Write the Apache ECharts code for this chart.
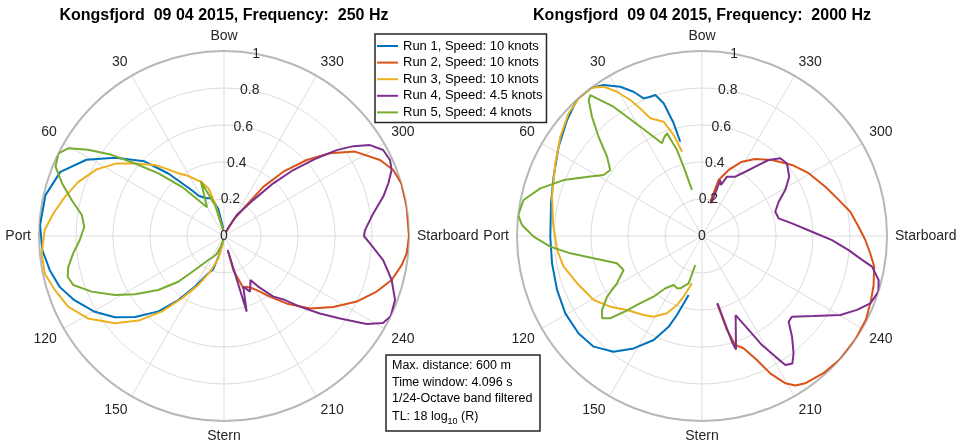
<!DOCTYPE html>
<html>
<head>
<meta charset="utf-8">
<title>Kongsfjord 09 04 2015 – directivity</title>
<script src="https://cdn.jsdelivr.net/npm/echarts@6/dist/echarts.min.js"></script>
<style>
  html, body { margin: 0; padding: 0; background: #ffffff; }
  #chart { width: 960px; height: 446px; }
</style>
</head>
<body>
<div id="chart"></div>
<script>
// ---- labels -------------------------------------------------------------
const titles = [
  'Kongsfjord  09 04 2015, Frequency:  250 Hz',
  'Kongsfjord  09 04 2015, Frequency:  2000 Hz'
];
const runNames = [
  'Run 1, Speed: 10 knots',
  'Run 2, Speed: 10 knots',
  'Run 3, Speed: 10 knots',
  'Run 4, Speed: 4.5 knots',
  'Run 5, Speed: 4 knots'
];
const angleTickLabels = ['Bow', '30', '60', 'Port', '120', '150', 'Stern', '210', '240', 'Starboard', '300', '330'];
const radiusTickLabels = ['0', '0.2', '0.4', '0.6', '0.8', '1'];
const infoLines = ['Max. distance: 600 m', 'Time window: 4.096 s', '1/24-Octave band filtered'];

// ---- measured levels: [bearing in degrees, normalised level] -------------
// 250 Hz
const run1_250 = [[5,0.04],[12,0.15],[18,0.214],[24.6,0.224],[32,0.255],[35,0.30],[41.6,0.45],[46.8,0.59],[54.3,0.725],[61,0.85],[68.6,0.95],[77.1,0.99],[86.6,0.996],[94.4,0.985],[101,0.96],[107.2,0.93],[113.2,0.88],[120.4,0.81],[126.7,0.735],[132.4,0.65],[139,0.54],[144.5,0.425],[150.2,0.315],[157,0.22],[162,0.19],[165,0.12],[170,0.04]];
const run2_250 = [[195,0.09],[195.3,0.19],[200.3,0.30],[204,0.30],[208,0.32],[211,0.34],[217,0.41],[223,0.50],[230,0.61],[237,0.705],[243.7,0.80],[250,0.878],[255.3,0.937],[260.7,0.973],[264.6,0.992],[270,1.0],[279,1.0],[286.5,1.0],[291.3,0.982],[296,0.938],[302.8,0.842],[308,0.727],[312.6,0.607],[317.3,0.473],[321.4,0.34],[323.8,0.21],[329.8,0.1],[335,0.02]];
const run3_250 = [[10,0.03],[14,0.09],[15.4,0.18],[18,0.27],[23,0.32],[26,0.337],[31,0.38],[36.1,0.42],[40,0.47],[44.2,0.535],[50.8,0.62],[55.9,0.70],[62.4,0.777],[69.6,0.84],[76.1,0.885],[82.4,0.93],[88.1,0.97],[95.4,0.99],[101.8,0.99],[107.7,0.96],[114.4,0.925],[121.2,0.86],[128.7,0.755],[134.7,0.65],[140.5,0.53],[145.8,0.41],[152.3,0.30],[158.6,0.21],[165.7,0.125],[170,0.05],[175,0.02]];
const run4_250 = [[194.8,0.078],[196.7,0.427],[200.8,0.293],[205,0.332],[211,0.278],[214,0.33],[219,0.42],[223.6,0.478],[227,0.56],[231,0.666],[234.6,0.77],[238.3,0.906],[241.3,0.98],[244.3,1.0],[249.5,0.987],[255.3,0.937],[261.4,0.87],[267.1,0.79],[270,0.756],[272.4,0.763],[278.6,0.816],[283.9,0.887],[287.8,0.933],[291.5,0.974],[294.6,0.987],[298.4,0.978],[301.9,0.93],[304.8,0.851],[307.3,0.766],[310,0.654],[313.6,0.517],[316.9,0.39],[320.9,0.25],[328.8,0.13],[335,0.03]];
const run5_250 = [[8,0.03],[16,0.17],[23,0.32],[30.5,0.18],[40.6,0.35],[46.3,0.49],[50.8,0.62],[54.2,0.75],[57.6,0.87],[60.6,0.966],[63.5,1.0],[67.6,0.985],[72,0.92],[76.7,0.846],[81.6,0.777],[86.2,0.757],[91.6,0.78],[96.5,0.82],[101.2,0.858],[104.6,0.873],[108,0.857],[112.8,0.776],[118.4,0.67],[123.2,0.575],[129.4,0.46],[135,0.35],[139.5,0.24],[146.8,0.155],[152,0.13],[157.9,0.105],[163,0.06],[170,0.02]];
// 2000 Hz
const run1_2000 = [[13,0.523],[14.1,0.628],[16.1,0.747],[18.3,0.803],[20.4,0.803],[23,0.808],[25.4,0.863],[28.7,0.92],[33.1,0.974],[36.8,1.0],[42.6,1.0],[49.3,0.962],[58.1,0.913],[68.2,0.864],[77.8,0.835],[90.3,0.82],[100.3,0.824],[110.4,0.836],[119.5,0.849],[128.3,0.85],[135.6,0.837],[142.6,0.787],[148.7,0.711],[155.1,0.62],[159.8,0.523],[162.4,0.448],[167.2,0.327]];
const run2_2000 = [[192.6,0.373],[194.9,0.526],[197,0.616],[200.3,0.647],[203.9,0.733],[206.4,0.829],[209.5,0.915],[212,0.953],[215,0.972],[221.5,0.99],[228,1.0],[236,1.0],[243,0.995],[249,0.978],[254,0.965],[260,0.945],[264,0.915],[268.6,0.883],[273.4,0.848],[279.3,0.812],[284.8,0.764],[291.8,0.718],[300.5,0.669],[308.3,0.62],[317.4,0.558],[325.3,0.506],[331.7,0.456],[338,0.385],[343.5,0.316],[346.4,0.191]];
const run3_2000 = [[13.3,0.468],[15.7,0.567],[18.6,0.652],[21.2,0.673],[23.7,0.695],[25.5,0.754],[27.8,0.831],[30.5,0.905],[33.4,0.967],[36.8,1.0],[41.5,1.0],[47.4,0.98],[55,0.935],[63.6,0.885],[75.3,0.838],[85.1,0.808],[95.5,0.787],[102.5,0.766],[110.7,0.722],[120.6,0.68],[127.6,0.626],[134.6,0.57],[143.5,0.531],[149,0.509],[155.6,0.459],[160.1,0.397],[163.1,0.343],[168,0.261]];
const run4_2000 = [[193,0.373],[195.8,0.594],[196.7,0.64],[203,0.465],[206.4,0.567],[208.8,0.673],[211.3,0.763],[212.9,0.83],[215.3,0.845],[218,0.804],[221.8,0.73],[225.3,0.659],[228.1,0.653],[234.4,0.742],[240.3,0.861],[244.5,0.928],[248.2,0.98],[252.5,1.0],[256,0.984],[259.8,0.934],[261.5,0.875],[264.5,0.796],[268.2,0.703],[272.2,0.595],[278,0.491],[283,0.425],[288.3,0.417],[294.1,0.454],[298.9,0.514],[304.2,0.57],[310.5,0.604],[314.8,0.596],[318.8,0.546],[322.4,0.473],[326,0.419],[330.7,0.368],[337.1,0.348],[339.6,0.294],[341.9,0.318],[342.7,0.242],[345.8,0.182]];
const run5_2000 = [[12.3,0.255],[14.9,0.388],[16.2,0.484],[18.8,0.586],[21.1,0.57],[23.3,0.546],[29.4,0.678],[34.4,0.847],[38.4,0.972],[39.8,0.957],[42.7,0.877],[46.2,0.775],[50.1,0.669],[54.3,0.611],[58.2,0.626],[62,0.684],[68,0.807],[73.6,0.911],[78.6,0.984],[83.5,1.0],[86.5,0.975],[90.2,0.91],[94,0.822],[97.5,0.718],[101.6,0.598],[107.8,0.483],[113.4,0.462],[119.1,0.526],[122.6,0.609],[126.5,0.672],[129.5,0.70],[131.9,0.666],[134.7,0.576],[136.7,0.512],[141.4,0.42],[145,0.345],[149.9,0.306],[154.5,0.313],[157.5,0.306],[164.2,0.266],[167,0.161]];

const panels = [
  [run1_250, run2_250, run3_250, run4_250, run5_250],
  [run1_2000, run2_2000, run3_2000, run4_2000, run5_2000]
];

// ---- styling ------------------------------------------------------------
const FONT = '"Liberation Sans", Arial, Helvetica, sans-serif';
const TEXT = '#262626';
const runColors = ['#0072BD', '#D95319', '#EDB120', '#7E2F8E', '#77AC30'];
const centres = [[224, 236], [702, 236]];
const RADIUS = 185;
const GRID = '#dcdcdc';

const polar = [];
const angleAxis = [];
const radiusAxis = [];

centres.forEach((c, i) => {
  // plotting grid
  polar.push({ center: c, radius: RADIUS });
  angleAxis.push({
    polarIndex: i, type: 'value', min: 0, max: 360, interval: 30,
    startAngle: 90, clockwise: false,
    axisLine: { lineStyle: { color: '#b8b8b8', width: 2 } },
    axisTick: { show: false },
    splitLine: { lineStyle: { color: GRID, width: 1 } },
    axisLabel: {
      margin: 8, fontSize: 14, color: TEXT, fontFamily: FONT,
      formatter: v => angleTickLabels[Math.round(v / 30) % 12]
    }
  });
  radiusAxis.push({
    polarIndex: i, type: 'value', min: 0, max: 1, interval: 0.2,
    axisLine: { show: false }, axisTick: { show: false },
    axisLabel: { show: false },
    splitLine: { lineStyle: { color: GRID, width: 1 } }
  });
});

centres.forEach((c, i) => {
  // radial tick labels along a ray 10 degrees right of the bow
  polar.push({ center: c, radius: RADIUS });
  angleAxis.push({
    polarIndex: 2 + i, type: 'value', min: 0, max: 360, startAngle: 80,
    show: false
  });
  radiusAxis.push({
    polarIndex: 2 + i, type: 'value', min: 0, max: 1, interval: 0.2, z: 5,
    axisLine: { show: false }, axisTick: { show: false }, splitLine: { show: false },
    axisLabel: {
      margin: 0, align: 'center', verticalAlign: 'middle',
      fontSize: 14, color: TEXT, fontFamily: FONT,
      formatter: v => radiusTickLabels[Math.round(v / 0.2)]
    }
  });
});

const series = [];
panels.forEach((runs, p) => {
  runs.forEach((d, k) => {
    series.push({
      type: 'line', name: runNames[k], coordinateSystem: 'polar', polarIndex: p,
      data: d.map(([a, r]) => [r, a]),
      symbol: 'none', showSymbol: false, smooth: false, silent: true,
      lineStyle: { width: 2, color: runColors[k] },
      itemStyle: { color: runColors[k] },
      z: 3
    });
  });
});

const graphic = [];
titles.forEach((t, i) => {
  graphic.push({
    type: 'text', x: centres[i][0], y: 16, z: 20,
    style: { text: t, fill: '#000', font: 'bold 16px ' + FONT, align: 'center', verticalAlign: 'middle' }
  });
});
graphic.push({
  type: 'rect', z: 20,
  shape: { x: 386, y: 355, width: 154, height: 76 },
  style: { fill: '#ffffff', stroke: '#262626', lineWidth: 1.5 }
});
infoLines.forEach((t, i) => {
  graphic.push({
    type: 'text', x: 392, y: 366 + i * 16.2, z: 21,
    style: { text: t, fill: '#000', font: '12.5px ' + FONT, align: 'left', verticalAlign: 'middle' }
  });
});
graphic.push({
  type: 'text', x: 392, y: 366 + 3 * 16.2 + 2, z: 21,
  style: {
    text: '{a|TL: 18 log}{s|10}{a| (R)}', align: 'left', verticalAlign: 'middle',
    rich: {
      a: { fontSize: 12.5, fontFamily: FONT, fill: '#000', lineHeight: 18, verticalAlign: 'middle' },
      s: { fontSize: 9, fontFamily: FONT, fill: '#000', lineHeight: 9, verticalAlign: 'bottom' }
    }
  }
});

const chart = echarts.init(document.getElementById('chart'), null, { renderer: 'canvas' });
chart.setOption({
  animation: false,
  backgroundColor: '#ffffff',
  polar, angleAxis, radiusAxis, series, graphic,
  legend: {
    data: runNames, orient: 'vertical', left: 375, top: 34,
    padding: [5, 4, 3, 2], itemWidth: 21, itemHeight: 2, itemGap: 2.6,
    icon: 'rect', selectedMode: false,
    backgroundColor: '#ffffff', borderColor: '#262626', borderWidth: 1.5, borderRadius: 0,
    textStyle: { fontSize: 13, color: '#000', fontFamily: FONT, lineHeight: 14 },
    z: 10
  }
});
</script>
</body>
</html>
